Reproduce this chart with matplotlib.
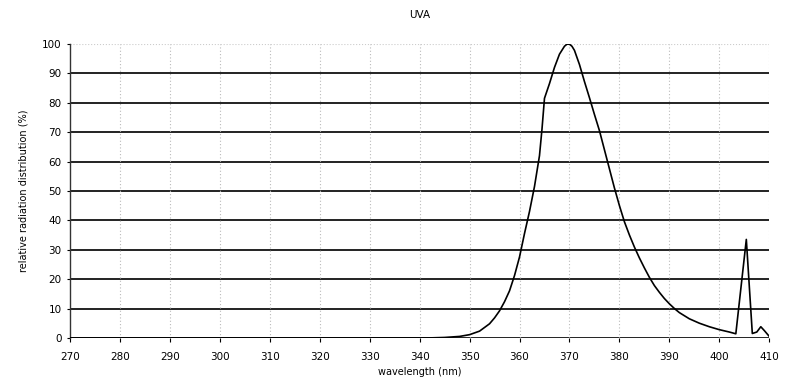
import matplotlib
matplotlib.use('Agg')
import matplotlib.pyplot as plt
import numpy as np

# spectrum
wavelength = [270, 342, 345, 348, 350, 352, 354, 355, 356, 357, 358, 359, 360, 361, 362,
              363, 364, 364.5, 365, 366, 367, 368, 369, 369.5, 370, 370.5, 371, 372, 373, 374, 375,
              376, 377, 378, 379, 380, 381, 382, 383, 384, 385, 386, 387, 388, 389,
              390, 391, 392, 394, 396, 398, 400, 402, 403.3,
              405.4, 406.6, 407.5, 408.3, 409, 410]
relative = [0, 0, 0.15, 0.5, 1.1, 2.3, 4.8, 6.8, 9.2, 12.3, 16, 21.2, 27.5, 35.5, 43,
            51.5, 62, 71, 81.5, 86.5, 92, 96.5, 99.2, 99.9, 99.9, 99.2, 97.8, 93, 87.2, 81.7, 76,
            70.5, 64, 57.5, 51, 45, 39.5, 35, 30.9, 27.2, 23.8, 20.6, 17.8, 15.5, 13.4,
            11.6, 10, 8.6, 6.5, 5, 3.8, 2.8, 2, 1.4,
            33.5, 1.5, 2, 3.8, 2.5, 0.5]

xticks = list(range(270, 411, 10))
yticks = list(range(0, 101, 10))

fig = plt.figure(figsize=(7.85, 3.92), dpi=100)
ax = fig.add_axes([0.089, 0.138, 0.891, 0.75])

# horizontal grid (solid black) and faint dotted verticals
for y in yticks[:-1]:
    ax.axhline(y, color='#111111', lw=1.3, zorder=1)
ax.axhline(100, color='#cccccc', lw=0.8, ls=':', zorder=1)
for x in xticks[1:]:
    ax.axvline(x, color='#bbbbbb', lw=0.8, ls=(0, (1, 2)), zorder=1)

ax.plot(wavelength, relative, color='black', lw=1.2, zorder=3)

ax.set_xlim(270, 410)
ax.set_ylim(0, 100)
ax.set_xticks(xticks)
ax.set_yticks(yticks)
ax.tick_params(axis='x', direction='out', length=3, labelsize=7.5, pad=7)
ax.tick_params(axis='y', length=2, labelsize=7.5, pad=4)

for s in ['top', 'right', 'bottom']:
    ax.spines[s].set_visible(False)
ax.spines['left'].set_linewidth(1.0)
ax.spines['left'].set_color('#333333')

ax.set_xlabel('wavelength (nm)', fontsize=7, labelpad=4)
ax.set_ylabel('relative radiation distribution (%)', fontsize=7, labelpad=10)
ax.set_title('UVA', fontsize=7.5, pad=19)

fig.savefig('out.png', dpi=100)
